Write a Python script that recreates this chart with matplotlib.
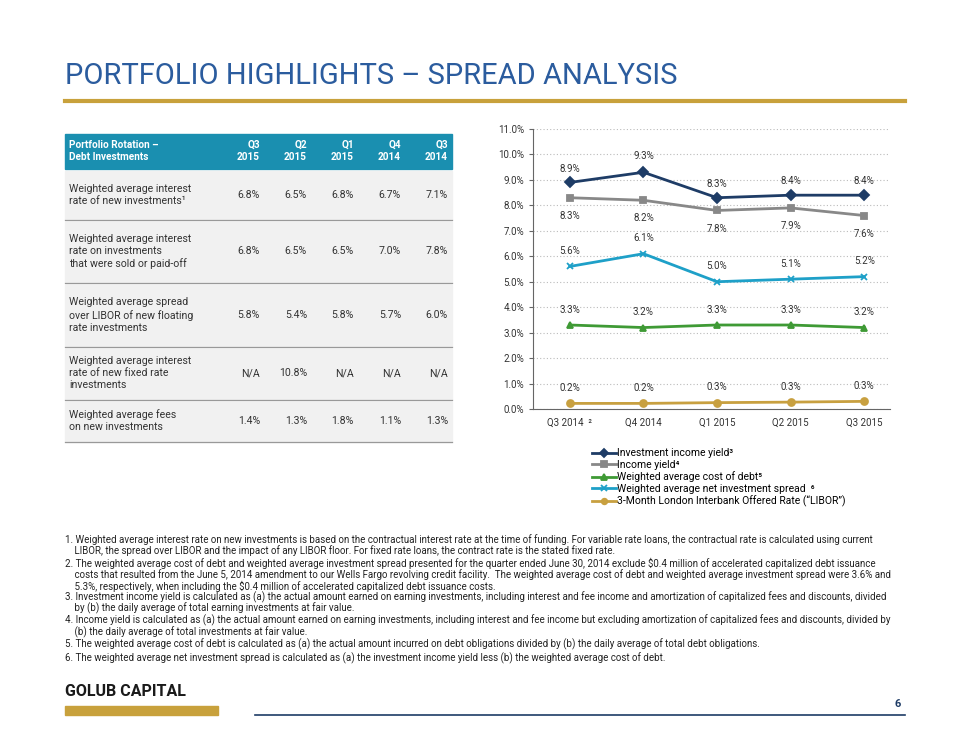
import matplotlib.pyplot as plt
from matplotlib.patches import Rectangle

plt.rcParams["font.family"] = ["Roboto", "DejaVu Sans"]

# data
quarters = ["Q3 2014", "Q4 2014", "Q1 2015", "Q2 2015", "Q3 2015"]
inv_income_yield = [8.9, 9.3, 8.3, 8.4, 8.4]
income_yield = [8.3, 8.2, 7.8, 7.9, 7.6]
cost_of_debt = [3.3, 3.2, 3.3, 3.3, 3.2]
net_spread = [5.6, 6.1, 5.0, 5.1, 5.2]
libor = [0.22, 0.22, 0.25, 0.27, 0.30]
libor_labels = ["0.2%", "0.2%", "0.3%", "0.3%", "0.3%"]

table_cols = ["Q3\n2015", "Q2\n2015", "Q1\n2015", "Q4\n2014", "Q3\n2014"]
table_rows = ["Weighted average interest\nrate of new investments\u00b9",
              "Weighted average interest\nrate on investments\nthat were sold or paid-off",
              "Weighted average spread\nover LIBOR of new floating\nrate investments",
              "Weighted average interest\nrate of new fixed rate\ninvestments",
              "Weighted average fees\non new investments"]
table_vals = [["6.8%", "6.5%", "6.8%", "6.7%", "7.1%"],
              ["6.8%", "6.5%", "6.5%", "7.0%", "7.8%"],
              ["5.8%", "5.4%", "5.8%", "5.7%", "6.0%"],
              ["N/A", "10.8%", "N/A", "N/A", "N/A"],
              ["1.4%", "1.3%", "1.8%", "1.1%", "1.3%"]]

footnotes = [
    "1. Weighted average interest rate on new investments is based on the contractual interest rate at the time of funding. For variable rate loans, the contractual rate is calculated using current\n    LIBOR, the spread over LIBOR and the impact of any LIBOR floor. For fixed rate loans, the contract rate is the stated fixed rate.",
    "2. The weighted average cost of debt and weighted average investment spread presented for the quarter ended June 30, 2014 exclude $0.4 million of accelerated capitalized debt issuance\n    costs that resulted from the June 5, 2014 amendment to our Wells Fargo revolving credit facility.  The weighted average cost of debt and weighted average investment spread were 3.6% and\n    5.3%, respectively, when including the $0.4 million of accelerated capitalized debt issuance costs.",
    "3. Investment income yield is calculated as (a) the actual amount earned on earning investments, including interest and fee income and amortization of capitalized fees and discounts, divided\n    by (b) the daily average of total earning investments at fair value.",
    "4. Income yield is calculated as (a) the actual amount earned on earning investments, including interest and fee income but excluding amortization of capitalized fees and discounts, divided by\n    (b) the daily average of total investments at fair value.",
    "5. The weighted average cost of debt is calculated as (a) the actual amount incurred on debt obligations divided by (b) the daily average of total debt obligations.",
    "6. The weighted average net investment spread is calculated as (a) the investment income yield less (b) the weighted average cost of debt.",
]

W, H = 968, 748
fig = plt.figure(figsize=(W / 100, H / 100), dpi=100)
fig.patch.set_facecolor("white")


def fx(px):
    return px / W


def fy(py):
    return 1 - py / H


navy = "#1e3c66"
gold = "#c8a13c"
teal = "#1a8fb0"

# title
fig.text(fx(65), fy(76), "PORTFOLIO HIGHLIGHTS \u2013 SPREAD ANALYSIS", fontsize=21,
         color="#2b5c9e", va="center")
fig.add_artist(plt.Line2D([fx(65), fx(905)], [fy(101), fy(101)], color=gold, lw=3))

# table
tx0, tx1 = 65, 452
fig.add_artist(Rectangle((fx(tx0), fy(169)), fx(tx1 - tx0), 35 / H, color=teal))
fig.text(fx(69), fy(151), "Portfolio Rotation \u2013\nDebt Investments", fontsize=7.2,
         color="white", weight="bold", va="center", linespacing=1.3)
col_x = [260, 307, 354, 401, 448]
for cx, c in zip(col_x, table_cols):
    fig.text(fx(cx), fy(151), c, fontsize=7.2, color="white", weight="bold",
             va="center", ha="right", linespacing=1.3)
bounds = [169, 220, 283, 347, 400, 442]
for i in range(5):
    top, bot = bounds[i], bounds[i + 1]
    fig.add_artist(Rectangle((fx(tx0), fy(bot)), fx(tx1 - tx0), (bot - top - 2) / H,
                             color="#f1f1f1"))
    fig.add_artist(plt.Line2D([fx(tx0), fx(tx1)], [fy(bot), fy(bot)], color="#999999",
                              lw=0.9))
    mid = (top + bot) / 2
    fig.text(fx(69), fy(mid), table_rows[i], fontsize=7.6, color="#333333", va="center",
             linespacing=1.25)
    for cx, v in zip(col_x, table_vals[i]):
        fig.text(fx(cx), fy(mid), v, fontsize=7.6, color="#333333", va="center", ha="right")

# chart
ax = fig.add_axes([fx(533), fy(409), fx(890 - 533), (409 - 129) / H])
x = list(range(len(quarters)))
series = [
    (inv_income_yield, navy, "D", "Investment income yield\u00b3", None),
    (income_yield, "#888888", "s", "Income yield\u2074", None),
    (cost_of_debt, "#3f9a35", "^", "Weighted average cost of debt\u2075", None),
    (net_spread, "#1ea0c8", "x", "Weighted average net investment spread  \u2076", None),
    (libor, "#c8a040", "o", "3-Month London Interbank Offered Rate (\u201cLIBOR\u201d)", libor_labels),
]
for vals, col, mk, lab, labs in series:
    ax.plot(x, vals, color=col, marker=mk, lw=2, ms=5, mew=1.3, label=lab)
offsets = {0: [10, 12, 10, 10, 10], 1: [-13, -13, -13, -13, -13],
           2: [11, 11, 11, 11, 11], 3: [11, 11, 11, 11, 11], 4: [11, 11, 11, 11, 11]}
for si, (vals, col, mk, lab, labs) in enumerate(series):
    for i, v in enumerate(vals):
        t = labs[i] if labs else f"{v:.1f}%"
        ax.annotate(t, (i, v), xytext=(0, offsets[si][i]), textcoords="offset points",
                    ha="center", va="center", fontsize=7, color="#333333")
ax.set_xlim(-0.5, 4.35)
ax.set_ylim(0, 11)
ax.set_yticks(range(12))
ax.set_yticklabels([f"{v:.1f}%" for v in range(12)], fontsize=7, color="#333333")
ax.set_xticks(x)
ax.set_xticklabels(["Q3 2014  \u00b2"] + quarters[1:], fontsize=7, color="#333333")
ax.grid(axis="y", color="#bbbbbb", ls=(0, (1, 2)), lw=0.8)
ax.tick_params(axis="y", length=3, color="#666666")
ax.tick_params(axis="x", length=0, pad=6)
for s in ["top", "right"]:
    ax.spines[s].set_visible(False)
ax.spines["left"].set_color("#666666")
ax.spines["bottom"].set_color("#666666")
leg = ax.legend(loc="upper left", bbox_to_anchor=(fx(588 - 533) / fx(890 - 533), -0.125),
                frameon=False, fontsize=7.5, handlelength=2.3, handletextpad=0.1,
                labelspacing=0.15, borderaxespad=0, markerscale=0.8)

# footnotes
yy = 534
for fn in footnotes:
    n = fn.count("\n") + 1
    fig.text(fx(65), fy(yy), fn, fontsize=7.0, color="#222222", va="top", linespacing=1.05)
    yy += n * 9.6 + 4.5

# footer
fig.text(fx(65), fy(692), "GOLUB CAPITAL", fontsize=11.5, weight="bold", color="#1a1a1a",
         va="center")
fig.add_artist(Rectangle((fx(65), fy(715)), fx(153), 9 / H, color=gold))
fig.add_artist(plt.Line2D([fx(255), fx(905)], [fy(715), fy(715)], color=navy, lw=1.2))
fig.text(fx(901), fy(704), "6", fontsize=8, color=navy, ha="right", va="center",
         weight="bold")

fig.savefig("out.png", dpi=100)
